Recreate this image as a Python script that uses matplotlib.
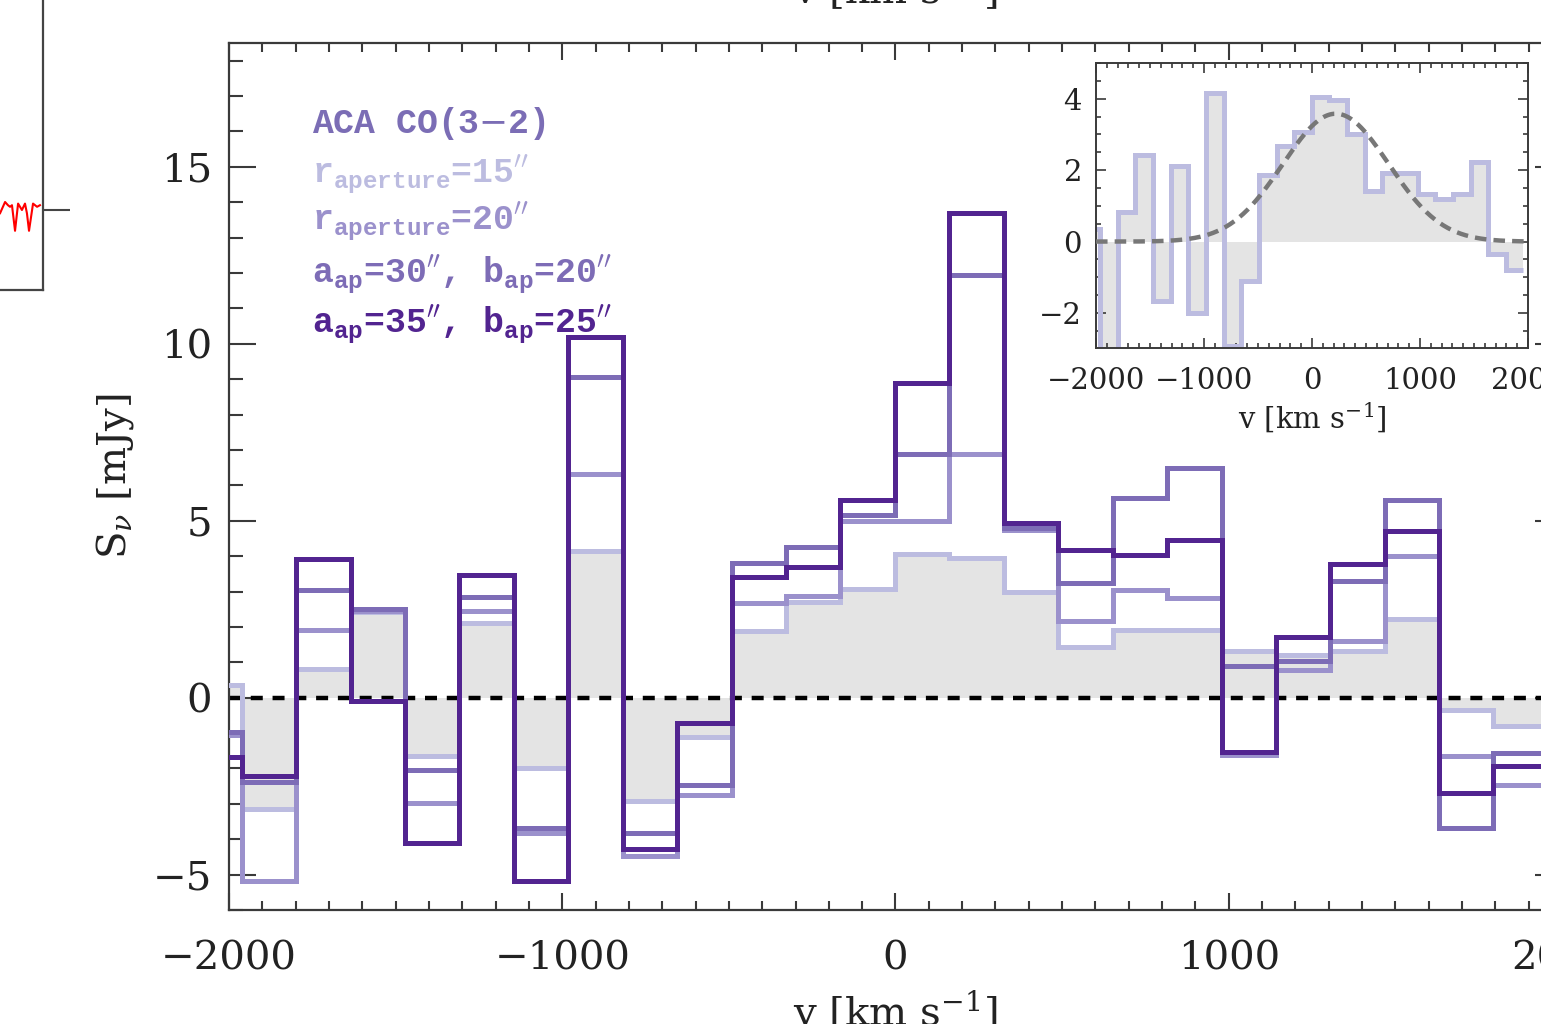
import numpy as np
import matplotlib
matplotlib.use("Agg")
import matplotlib.pyplot as plt
from matplotlib.ticker import MultipleLocator

plt.rcParams['font.family'] = ['DejaVu Serif']
plt.rcParams['mathtext.fontset'] = 'dejavuserif'

W, H = 1541, 1024

# channel centres [km/s] and channel width
v_chan = [-2043, -1880, -1717, -1553, -1390, -1227, -1064, -900, -737, -574,
          -410, -247, -84, 80, 243, 406, 570, 733, 896, 1060, 1223, 1386,
          1550, 1713, 1876]
dv = 163.3

# ACA CO(3-2) flux densities [mJy] for the four apertures
s15 = [0.35, -3.15, 0.82, 2.42, -1.66, 2.12, -2.0, 4.15, -2.93, -1.1, 1.87,
       2.69, 3.08, 4.06, 3.96, 3.0, 1.42, 1.91, 1.91, 1.33, 1.2, 1.33, 2.22,
       -0.34, -0.8]
s20 = [-1.05, -5.19, 1.92, 2.46, -2.97, 2.44, -3.83, 6.33, -4.48, -2.74, 2.67,
       2.86, 4.98, 4.98, 6.88, 4.75, 2.17, 3.03, 2.83, -1.62, 0.79, 1.6, 3.99,
       -1.66, -2.46]
s30 = [-0.98, -2.37, 3.05, 2.5, -2.03, 2.84, -3.68, 9.07, -3.82, -2.46, 3.8,
       4.27, 5.17, 6.88, 11.95, 4.8, 3.23, 5.63, 6.5, 0.89, 1.03, 3.3, 5.59,
       -3.68, -1.56]
s35 = [-1.68, -2.2, 3.92, -0.08, -4.1, 3.47, -5.19, 10.2, -4.27, -0.72, 3.42,
       3.68, 5.59, 8.89, 13.71, 4.93, 4.17, 4.03, 4.45, -1.54, 1.72, 3.77, 4.7,
       -2.69, -1.92]

# gaussian fit to the r=15" spectrum (inset)
g_amp, g_cen, g_sig = 3.58, 220.0, 490.0

# bit of the neighbouring panel (red spectrum) that is cut off on the left
red_v = [1733, 1764, 1782, 1795, 1807, 1826, 1845, 1869, 1888, 1900, 1913,
         1938, 1963, 1981]
red_f = [-0.02, 0.05, 0.03, 0.02, 0.03, -0.13, 0.04, 0.0, 0.04, -0.02, -0.13,
         0.04, 0.02, 0.03]

c15, c20, c30, c35 = '#bcbce0', '#9b91cc', '#7d6cb6', '#522490'
fillc = '#e4e4e4'
spc = '#3a3a3a'

edges = np.append(np.array(v_chan) - dv / 2, v_chan[-1] + dv / 2)

fig = plt.figure(figsize=(W / 100, H / 100), dpi=100)

# ---- main panel
ax = fig.add_axes([229 / W, 1 - 910 / H, (1562 - 229) / W, (910 - 43) / H])
ax.stairs(s15, edges, baseline=0, fill=True, color=fillc, lw=0, zorder=1)
ax.axhline(0, color='k', lw=3.2, ls=(0, (2.7, 2.2)), zorder=2)
for vals, col in [(s15, c15), (s20, c20), (s30, c30), (s35, c35)]:
    ax.stairs(vals, edges, baseline=None, edgecolor=col, linewidth=3.6,
              joinstyle='miter', zorder=3)

ax.set_xlim(-2000, 2000)
ax.set_ylim(-6, 18.5)
ax.xaxis.set_major_locator(MultipleLocator(1000))
ax.xaxis.set_minor_locator(MultipleLocator(100))
ax.yaxis.set_major_locator(MultipleLocator(5))
ax.yaxis.set_minor_locator(MultipleLocator(1))
ax.tick_params(which='both', direction='in', top=True, right=True,
               color=spc, width=1.5, labelsize=29, labelcolor='#222222')
ax.tick_params(axis='x', which='major', length=12, pad=22)
ax.tick_params(axis='x', which='minor', length=6.5)
ax.tick_params(axis='y', which='major', length=19.5, pad=12)
ax.tick_params(axis='y', which='minor', length=10)
for sp in ax.spines.values():
    sp.set_color(spc)
    sp.set_linewidth(1.6)
ax.set_xlabel('v [km s$^{-1}$]', fontsize=29, labelpad=8, color='#222222')
ax.set_ylabel(r'S$_\nu$ [mJy]', fontsize=29, labelpad=12, color='#222222')

# legend text block
leg = [('ACA CO(3$-$2)', '#7b6db5', 133),
       (r"r$_{\mathdefault{aperture}}$=15$''$", c15, 183),
       (r"r$_{\mathdefault{aperture}}$=20$''$", c20, 230),
       (r"a$_{\mathdefault{ap}}$=30$''$, b$_{\mathdefault{ap}}$=20$''$", '#7d6cb6', 283),
       (r"a$_{\mathdefault{ap}}$=35$''$, b$_{\mathdefault{ap}}$=25$''$", c35, 333)]
for txt, col, ypix in leg:
    fig.text(312 / W, 1 - ypix / H, txt, color=col, fontsize=25,
             family='Liberation Mono', weight='bold', va='baseline', ha='left')

# ---- inset: r=15" spectrum with gaussian fit
axi = fig.add_axes([1096 / W, 1 - 348 / H, 432 / W, 285 / H])
axi.stairs(s15, edges, baseline=0, fill=True, color=fillc, lw=0, zorder=1)
axi.stairs(s15, edges, baseline=None, edgecolor=c15, linewidth=3.6,
           joinstyle='miter', zorder=2)
vg = np.linspace(-2000, 2000, 400)
axi.plot(vg, g_amp * np.exp(-(vg - g_cen) ** 2 / (2 * g_sig ** 2)),
         color='#777777', lw=3.2, ls=(0, (2.6, 1.6)), zorder=3)
axi.set_xlim(-2000, 2000)
axi.set_ylim(-2.98, 5.0)
axi.xaxis.set_major_locator(MultipleLocator(1000))
axi.xaxis.set_minor_locator(MultipleLocator(100))
axi.yaxis.set_major_locator(MultipleLocator(2))
axi.yaxis.set_minor_locator(MultipleLocator(0.5))
axi.tick_params(which='both', direction='in', top=True, right=True,
                color=spc, width=1.2, labelsize=21, labelcolor='#222222')
axi.tick_params(which='major', length=7)
axi.tick_params(which='minor', length=3.5)
axi.tick_params(axis='x', pad=14)
axi.tick_params(axis='y', pad=10)
for sp in axi.spines.values():
    sp.set_color(spc)
    sp.set_linewidth(1.4)
axi.set_xlabel('v [km s$^{-1}$]', fontsize=21, labelpad=4, color='#222222')

# ---- cut-off pieces of the neighbouring panels
axl = fig.add_axes([-600 / W, 1 - 290 / H, 643 / W, 624 / H])
axl.plot(red_v, red_f, color='red', lw=1.5)
axl.set_xlim(-2000, 2000)
axl.set_ylim(-0.5, 3.4)
axl.spines['top'].set_visible(False)
axl.spines['left'].set_visible(False)
for sp in ('right', 'bottom'):
    axl.spines[sp].set_color('#444444')
    axl.spines[sp].set_linewidth(1.6)
axl.set_xticks([])
axl.yaxis.tick_right()
axl.set_yticks([0])
axl.tick_params(axis='y', direction='out', length=19.5, width=1.5,
                color='#444444', labelright=False)

fig.text(895 / W, 1 - 3 / H, 'v [km s$^{-1}$]', ha='center', va='baseline',
         fontsize=29, color='#222222')

fig.savefig('out.png', dpi=100)
